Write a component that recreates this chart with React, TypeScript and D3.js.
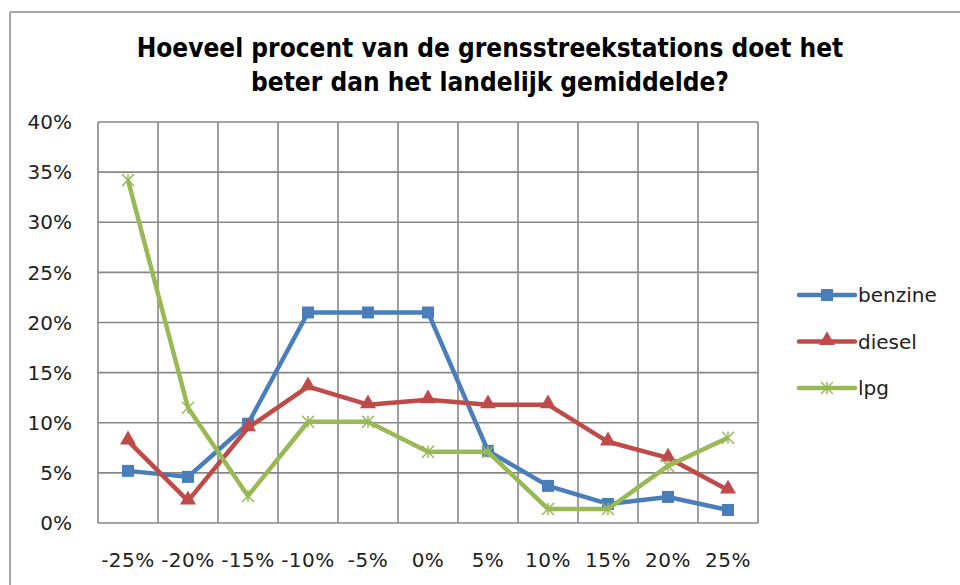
import React from 'react';
import * as d3 from 'd3';

const categories = ['-25%', '-20%', '-15%', '-10%', '-5%', '0%', '5%', '10%', '15%', '20%', '25%'];
const benzine = [5.2, 4.6, 9.9, 21.0, 21.0, 21.0, 7.2, 3.7, 1.9, 2.6, 1.3];
const diesel = [8.2, 2.2, 9.5, 13.6, 11.8, 12.3, 11.8, 11.8, 8.1, 6.5, 3.3];
const lpg = [34.2, 11.5, 2.7, 10.1, 10.1, 7.1, 7.1, 1.4, 1.4, 5.7, 8.5];
const yTicks = [0, 5, 10, 15, 20, 25, 30, 35, 40];
const titleLines = [
  'Hoeveel procent van de grensstreekstations doet het',
  'beter dan het landelijk gemiddelde?',
];

type Marker = 'square' | 'triangle' | 'star';
const series: { name: string; values: number[]; color: string; marker: Marker }[] = [
  { name: 'benzine', values: benzine, color: '#4A7EBB', marker: 'square' },
  { name: 'diesel', values: diesel, color: '#BE4B48', marker: 'triangle' },
  { name: 'lpg', values: lpg, color: '#98B954', marker: 'star' },
];

const plot = { left: 98, right: 758, top: 122, bottom: 523 };
const gridColor = '#878787';
const font = '"DejaVu Sans", sans-serif';

const MarkerShape: React.FC<{ kind: Marker; x: number; y: number; color: string }> = ({ kind, x, y, color }) => {
  if (kind === 'square') {
    return <rect x={x - 6} y={y - 6} width={12} height={12} fill={color} />;
  }
  if (kind === 'triangle') {
    const tri = d3.symbol().type(d3.symbolTriangle).size(110)();
    return <path d={tri || ''} transform={`translate(${x},${y - 1})`} fill={color} />;
  }
  const r = 6;
  return (
    <g stroke={color} strokeWidth={1.5}>
      <line x1={x - r} y1={y - r} x2={x + r} y2={y + r} />
      <line x1={x - r} y1={y + r} x2={x + r} y2={y - r} />
      <line x1={x} y1={y - r} x2={x} y2={y + r} />
    </g>
  );
};

export default function App() {
  const x = d3.scalePoint<string>().domain(categories).range([plot.left, plot.right]).padding(0.5);
  const y = d3.scaleLinear().domain([0, 40]).range([plot.bottom, plot.top]);
  const band = (plot.right - plot.left) / categories.length;

  const line = d3.line<number>()
    .x((_, i) => x(categories[i]) || 0)
    .y(d => y(d));

  return (
    <svg width={960} height={585} style={{ position: 'absolute', left: 0, top: 0, background: '#fff' }} fontFamily={font}>
      {/* outer chart frame */}
      <line x1={10} y1={12} x2={960} y2={12} stroke="#a6a6a6" strokeWidth={2} />
      <line x1={10} y1={12} x2={10} y2={585} stroke="#a6a6a6" strokeWidth={2} />

      {titleLines.map((t, i) => (
        <text key={i} x={490} y={57 + i * 34} textAnchor="middle" fontFamily='"DejaVu Sans Condensed", "DejaVu Sans", sans-serif'
          fontWeight="bold" fontSize={26} fill="#000">{t}</text>
      ))}

      {/* grid */}
      {yTicks.map(t => (
        <g key={t}>
          <line x1={plot.left} x2={plot.right} y1={y(t)} y2={y(t)} stroke={gridColor} strokeWidth={1.6} />
          <text x={72} y={y(t)} dy="0.36em" textAnchor="end" fontSize={20} fill="#222">{t}%</text>
        </g>
      ))}
      {d3.range(categories.length + 1).map(i => (
        <line key={i} x1={plot.left + i * band} x2={plot.left + i * band} y1={plot.top} y2={plot.bottom}
          stroke={gridColor} strokeWidth={1.6} />
      ))}
      {categories.map(c => (
        <text key={c} x={x(c)} y={560} dy="0.36em" textAnchor="middle" fontSize={20} letterSpacing={0.5} fill="#222">{c}</text>
      ))}

      {/* series */}
      {series.map(s => (
        <g key={s.name}>
          <path d={line(s.values) || ''} fill="none" stroke={s.color} strokeWidth={4.5} strokeLinejoin="round" />
          {s.values.map((v, i) => (
            <MarkerShape key={i} kind={s.marker} x={x(categories[i]) || 0} y={y(v)} color={s.color} />
          ))}
        </g>
      ))}

      {/* legend */}
      {series.map((s, i) => {
        const ly = 295 + i * 46.5;
        return (
          <g key={s.name}>
            <line x1={799} x2={855} y1={ly} y2={ly} stroke={s.color} strokeWidth={4.5} strokeLinecap="round" />
            <MarkerShape kind={s.marker} x={827} y={ly} color={s.color} />
            <text x={858} y={ly} dy="0.36em" fontSize={20} fill="#222">{s.name}</text>
          </g>
        );
      })}
    </svg>
  );
}
